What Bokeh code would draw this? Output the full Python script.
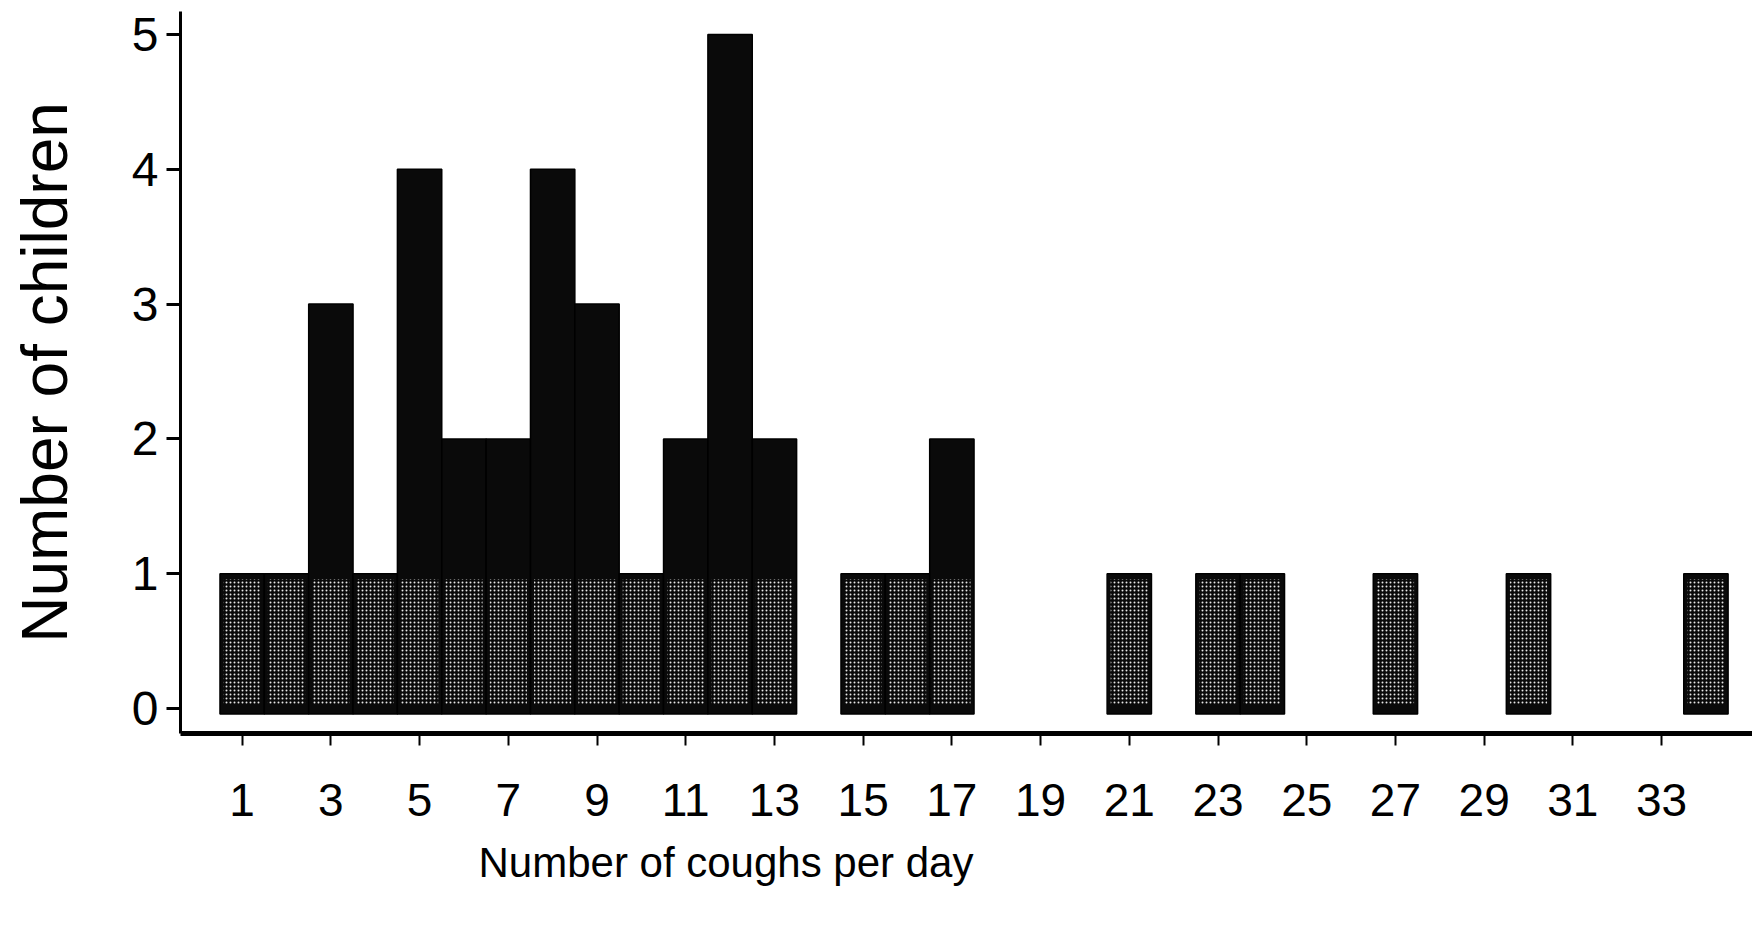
import numpy as np
from bokeh.plotting import figure
from bokeh.embed import file_html
from bokeh.resources import INLINE
from bokeh.models import FixedTicker, ColumnDataSource, Range1d, Title

# Data
coughs = [1, 2, 3, 4, 5, 6, 7, 8, 9, 10, 11, 12, 13, 15, 16, 17, 21, 23, 24, 27, 30, 34]
children = [1, 1, 3, 1, 4, 2, 2, 4, 3, 1, 2, 5, 2, 1, 1, 2, 1, 1, 1, 1, 1, 1]
x_ticks = list(range(1, 34, 2))
y_ticks = [0, 1, 2, 3, 4, 5]

FONT = "Liberation Sans"

p = figure(width=1752, height=914, output_backend="svg", toolbar_location=None,
           x_range=Range1d(-0.39, 35.05), y_range=Range1d(-0.185, 5.17),
           min_border_left=180, min_border_right=0, min_border_top=11, min_border_bottom=181)

src = ColumnDataSource(dict(x=coughs, top=children,
                            low=np.minimum(np.array(children), 1) - 0.04))
p.vbar(x="x", top="top", bottom=-0.04, width=1.0, source=src,
       fill_color="#0a0a0a", line_color="#000000", line_width=1.5)
# lighter speckled lower part, as in the scanned original
p.vbar(x="x", top="low", bottom=0.03, width=0.84, source=src,
       fill_alpha=0, line_alpha=0,
       hatch_pattern="dot", hatch_color="#ffffff", hatch_alpha=0.9,
       hatch_scale=4, hatch_weight=3.2)

p.xgrid.visible = False
p.ygrid.visible = False
p.outline_line_color = None
p.background_fill_color = "white"
p.border_fill_color = "white"

p.xaxis.ticker = FixedTicker(ticks=x_ticks)
p.yaxis.ticker = FixedTicker(ticks=y_ticks)

for ax in (p.xaxis[0], p.yaxis[0]):
    ax.axis_line_color = "black"
    ax.major_tick_line_color = "black"
    ax.minor_tick_line_color = None
    ax.major_tick_in = 0
    ax.major_label_text_font = FONT
    ax.major_label_text_color = "black"
    ax.axis_label_text_font = FONT
    ax.axis_label_text_font_style = "normal"
    ax.axis_label_text_color = "black"

p.xaxis.axis_line_width = 5
p.xaxis.major_tick_line_width = 2
p.xaxis.major_tick_out = 12
p.xaxis.major_label_standoff = 38
p.xaxis.major_label_text_font_size = "46px"

# x-axis title sits left of the frame centre in the original
p.add_layout(Title(text="Number of coughs per day", align="left", offset=298,
                   text_font=FONT, text_font_size="42px", text_color="black",
                   text_font_style="normal", standoff=37), "below")

p.yaxis.axis_line_width = 3
p.yaxis.major_tick_line_width = 3
p.yaxis.major_tick_out = 14
p.yaxis.major_label_standoff = 8
p.yaxis.major_label_text_font_size = "48px"
p.yaxis.axis_label = "Number of children"
p.yaxis.axis_label_text_font_size = "64px"
p.yaxis.axis_label_standoff = 48

open("out.html", "w").write(file_html(p, INLINE))
